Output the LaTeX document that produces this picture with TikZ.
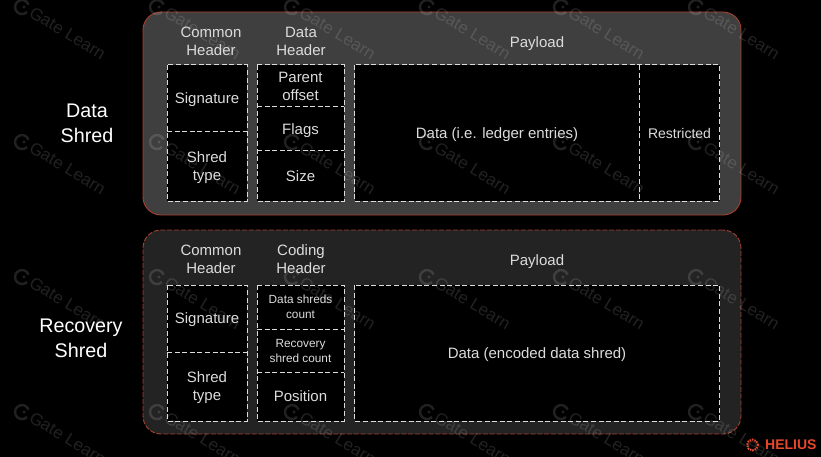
\documentclass[tikz,border=0pt]{standalone}
\usepackage{fontspec}
\setmainfont{Liberation Sans}
\usepackage{xcolor}
\usetikzlibrary{positioning}
\definecolor{panelA}{HTML}{3F3F3F}
\definecolor{panelB}{HTML}{232323}
\definecolor{edgeRed}{HTML}{A8402F}
\definecolor{heliusRed}{HTML}{E8472B}
\definecolor{inkGrey}{HTML}{DCDCDC}
\begin{document}
\begin{tikzpicture}[x=1pt,y=-1pt,
    panel/.style={rounded corners=18pt,line width=0.9pt,draw=edgeRed,inner sep=0pt,outer sep=0pt},
    cell/.style={fill=black,inner sep=0pt,outer sep=0pt,text=inkGrey,align=center,text depth=0pt,font=\fontsize{15}{18}\selectfont},
    smallcell/.style={cell,font=\fontsize{11.8}{15}\selectfont},
    outline/.style={draw=inkGrey,dash pattern=on 5pt off 2.6pt,line width=1pt},
    head/.style={text=inkGrey,align=center,inner sep=0pt,text depth=0pt,font=\fontsize{15}{18}\selectfont},
    title/.style={text=white,align=center,inner sep=0pt,font=\fontsize{19.7}{25}\selectfont},
    wmark/.style={text=white,text opacity=0.13,inner sep=0pt,anchor=west,rotate=-31,font=\fontsize{17}{17}\selectfont}]
    \clip (0,0) rectangle (821,457);
    \fill[black] (0,0) rectangle (821,457);

    \node[panel,fill=panelA,minimum width=598pt,minimum height=203pt] (dataPanel) at (442,113.5) {};
    \node[panel,fill=panelB,dash pattern=on 5pt off 1.8pt,minimum width=598pt,minimum height=204pt] (recPanel) at (442,332) {};

    \node[cell,minimum width=80pt,minimum height=67pt] (sigA) at (207,98.5) {Signature};
    \node[cell,minimum width=80pt,minimum height=69pt] (typeA) [below=0pt of sigA] {Shred\\type};
    \node[cell,minimum width=87pt,minimum height=42pt] (parent) at (300.5,86) {Parent\\offset};
    \node[cell,minimum width=87pt,minimum height=44pt] (flags) [below=0pt of parent] {Flags};
    \node[cell,minimum width=87pt,minimum height=50pt] (size) [below=0pt of flags] {Size};
    \node[cell,minimum width=285pt,minimum height=136pt] (dataA) at (497,133) {Data (i.e. ledger entries)};
    \node[cell,minimum width=80pt,minimum height=136pt,font=\fontsize{14}{15}\selectfont] (restricted) [right=0pt of dataA] {Restricted};

    \node[cell,minimum width=80pt,minimum height=67pt] (sigB) at (207,318.5) {Signature};
    \node[cell,minimum width=80pt,minimum height=69pt] (typeB) [below=0pt of sigB] {Shred\\type};
    \node[smallcell,minimum width=87pt,minimum height=44pt] (dataCount) at (300.5,307) {Data shreds\\count};
    \node[smallcell,minimum width=87pt,minimum height=43pt] (recCount) [below=0pt of dataCount] {Recovery\\shred count};
    \node[cell,minimum width=87pt,minimum height=49pt] (position) [below=0pt of recCount] {Position};
    \node[cell,minimum width=365pt,minimum height=136pt] (dataB) at (537,353) {Data (encoded data shred)};

    \draw[outline] (sigA.north west) rectangle (typeA.south east);
    \draw[outline] (sigA.south west) -- (sigA.south east);
    \draw[outline] (parent.north west) rectangle (size.south east);
    \draw[outline] (parent.south west) -- (parent.south east);
    \draw[outline] (flags.south west) -- (flags.south east);
    \draw[outline] (dataA.north west) rectangle (restricted.south east);
    \draw[outline] (dataA.north east) -- (dataA.south east);
    \draw[outline] (sigB.north west) rectangle (typeB.south east);
    \draw[outline] (sigB.south west) -- (sigB.south east);
    \draw[outline] (dataCount.north west) rectangle (position.south east);
    \draw[outline] (dataCount.south west) -- (dataCount.south east);
    \draw[outline] (recCount.south west) -- (recCount.south east);
    \draw[outline] (dataB.north west) rectangle (dataB.south east);

    \node[head] (commonA) at (211,41) {Common\\Header};
    \node[head] (dataHead) at (301,41) {Data\\Header};
    \node[head] (payloadA) at (537,42) {Payload};
    \node[head] (commonB) at (211,259) {Common\\Header};
    \node[head] (codingHead) at (301,259) {Coding\\Header};
    \node[head] (payloadB) at (537,260) {Payload};

    \node[title] (dataTitle) at (87,123) {Data\\Shred};
    \node[title] (recTitle) at (81,338.5) {Recovery\\Shred};

    \node[circle,draw=heliusRed,dash pattern=on 1.5pt off 1pt,line width=2pt,minimum size=11pt,inner sep=0pt] (heliusMark) at (752.5,445) {};
    \node[text=heliusRed,inner sep=0pt,anchor=west,font=\fontsize{14}{14}\bfseries\selectfont] (heliusText) at (765,445) {HELIUS};

    \foreach \wx in {22,157,292,427,561,696}
        \foreach \wy in {7,142,277,412} {
            \draw[white,opacity=0.13,line width=2.4pt] (\wx+5,\wy+5) arc (-45:-340:7pt);
            \fill[white,opacity=0.13] (\wx+2,\wy) circle (1.6pt);
            \node[wmark] at (\wx+9,\wy+4) {Gate Learn};
        }
\end{tikzpicture}
\end{document}
